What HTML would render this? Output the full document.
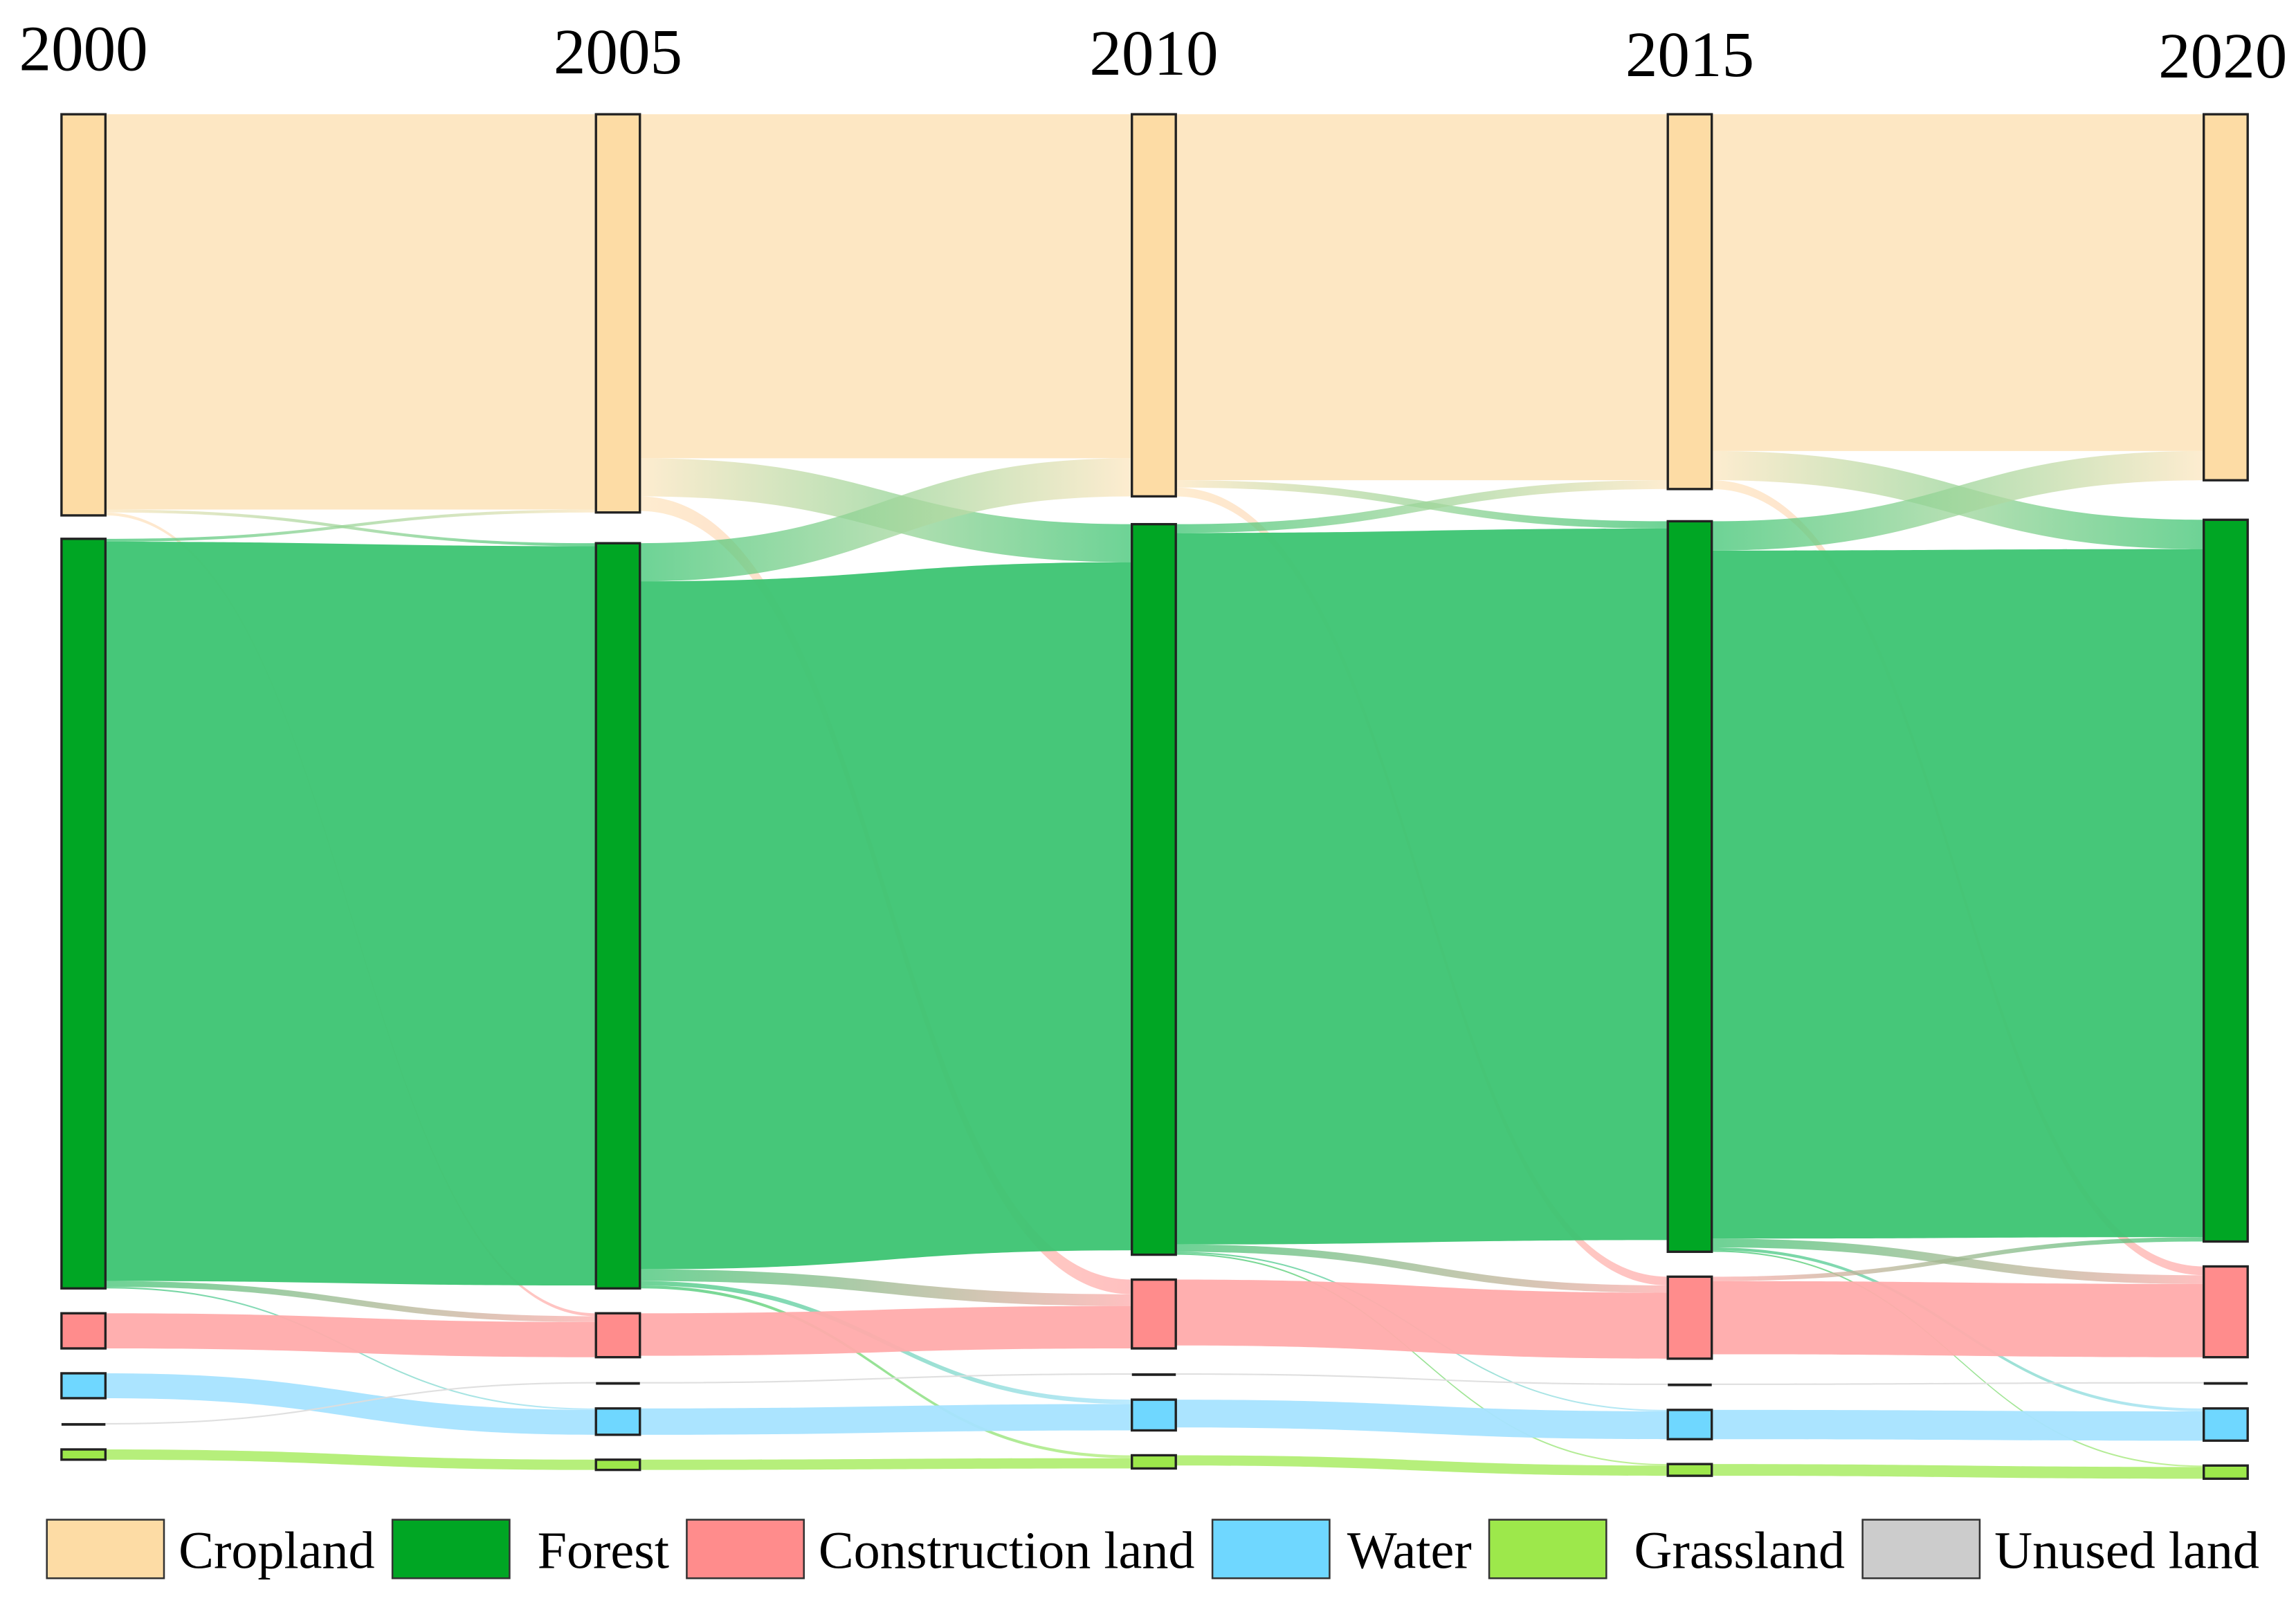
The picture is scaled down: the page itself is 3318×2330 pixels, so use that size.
<!DOCTYPE html>
<html><head><meta charset="utf-8">
<style>
html,body{margin:0;padding:0;background:#fff;}
svg{display:block;}
</style></head>
<body>
<svg id="chart" width="3318" height="2330" viewBox="0 0 1568 1101" xmlns="http://www.w3.org/2000/svg" font-family="'Liberation Serif', serif">
<defs id="defs"></defs>
<g id="links"></g>
<g id="nodes"></g>
<g id="years"></g>
<g id="legend"></g>
</svg>
<script>
const years = ["2000","2005","2010","2015","2020"];
const categories = ["Cropland","Forest","Construction land","Water","Grassland","Unused land"];
// flows[t][from][to]  (order: Cropland, Forest, Construction, Water, Grassland, Unused)
const flow2000to2005 = [
  [270,2,2,0,0,0],
  [2,505,4,1,0,0],
  [0,0,24,0,0,0],
  [0,0,0,17,0,0],
  [0,0,0,0,7,0],
  [0,0,0,0,0,1]
];
const flow2005to2010 = [
  [235,26,10,0,0,0],
  [26,470,8,3,2,0],
  [0,0,29,0,0,0],
  [0,0,0,18,0,0],
  [0,0,0,0,7,0],
  [0,0,0,0,0,1]
];
const flow2010to2015 = [
  [250,5,6,0,0,0],
  [6,486,5,1,1,0],
  [0,0,45,0,0,0],
  [0,0,0,19,0,0],
  [0,0,0,0,7,0],
  [0,0,0,0,0,1]
];
const flow2015to2020 = [
  [230,20,6,0,0,0],
  [20,470,6,2,1,0],
  [0,3,50,0,0,0],
  [0,0,0,20,0,0],
  [0,0,0,0,8,0],
  [0,0,0,0,0,1]
];
const flows = [flow2000to2005, flow2005to2010, flow2010to2015, flow2015to2020];

const nodeColors = ["#FDDCA5","#00A624","#FF8C8C","#6FD7FF","#9DE84B","#CCCCCC"];
const linkColors = ["#FDE6C0","#3CC472","#FFABAB","#A6E3FF","#B2EE74","#DDDDDD"];
const stackOrders = [[0,1,2,3,5,4],[0,1,2,5,3,4],[0,1,2,5,3,4],[0,1,2,5,3,4],[0,1,2,5,3,4]];
const firstGap = [16,21,19,22,27];
const colX = [42,407,773,1139,1505];
const nodeW = 30, top0 = 78, pad = 17;
const NS = "http://www.w3.org/2000/svg";

function mk(tag, attrs, parent){
  const e = document.createElementNS(NS, tag);
  for (const k in attrs) e.setAttribute(k, attrs[k]);
  parent.appendChild(e); return e;
}
const values = years.map((y,c)=>categories.map((_,i)=>{
  let out = 0, inn = 0;
  if (c < flows.length) out = flows[c][i].reduce((a,b)=>a+b,0);
  if (c > 0) inn = flows[c-1].reduce((a,row)=>a+row[i],0);
  return Math.max(out, inn, 1);
}));
const nodeY = values.map((v,c)=>{
  const ys = []; let y = top0;
  stackOrders[c].forEach((i,k)=>{ ys[i] = y; y += v[i] + (k===0 ? firstGap[c] : pad); });
  return ys;
});
const defs = document.getElementById('defs');
const linksG = document.getElementById('links');
flows.forEach((m,t)=>{
  const outOff = categories.map(()=>0), inOff = categories.map(()=>0);
  const segs = [];
  const so = stackOrders[t], ti = stackOrders[t+1];
  so.forEach(i=>{ ti.forEach(j=>{
    const v = m[i][j]; if (!v) return;
    const y0 = nodeY[t][i] + outOff[i]; outOff[i] += v;
    segs.push({i,j,v,y0});
  });});
  ti.forEach(j=>{ so.forEach(i=>{
    const s = segs.find(q=>q.i===i&&q.j===j); if (!s) return;
    s.y1 = nodeY[t+1][j] + inOff[j]; inOff[j] += s.v;
  });});
  segs.forEach((s,k)=>{
    const x0 = colX[t]+nodeW, x1 = colX[t+1], xm = (x0+x1)/2;
    let fill = linkColors[s.i];
    if (s.i !== s.j){
      const id = 'g'+t+'_'+k;
      const g = mk('linearGradient',{id:id,x1:'0',x2:'1',y1:'0',y2:'0'},defs);
      mk('stop',{offset:'0','stop-color':linkColors[s.i]},g);
      mk('stop',{offset:'1','stop-color':linkColors[s.j]},g);
      fill = 'url(#'+id+')';
    }
    const d = `M${x0},${s.y0} C${xm},${s.y0} ${xm},${s.y1} ${x1},${s.y1} L${x1},${s.y1+s.v} C${xm},${s.y1+s.v} ${xm},${s.y0+s.v} ${x0},${s.y0+s.v} Z`;
    const p = mk('path',{d:d,fill:fill,'fill-opacity':s.i===s.j?0.95:0.75},linksG);
    
    
  });
});
const nodesG = document.getElementById('nodes');
years.forEach((yr,c)=>{
  categories.forEach((cat,i)=>{
    const h = values[c][i];
    let r;
    if (i===5){
      r = mk('rect',{x:colX[c],y:nodeY[c][i],width:nodeW,height:1.8,fill:'#222'},nodesG);
    } else {
      r = mk('rect',{x:colX[c],y:nodeY[c][i],width:nodeW,height:h,fill:nodeColors[i],stroke:'#222','stroke-width':1.6},nodesG);
    }
    
    
  });
});
const yearsG = document.getElementById('years');
const yearBase = [48,50,51,52,53];
years.forEach((yr,c)=>{
  const t = mk('text',{x:colX[c]+nodeW/2 - (c===4?2:0),y:yearBase[c],'text-anchor':'middle','font-size':44,fill:'#000'},yearsG);
  t.textContent = yr;
  
  
});
const legendG = document.getElementById('legend');
const legBoxX = [32,268,469,828,1017,1272];
const legTextX = [122,367,559,920,1116,1362];
categories.forEach((cat,i)=>{
  const r = mk('rect',{x:legBoxX[i],y:1038,width:80,height:40,fill:nodeColors[i],stroke:'#333','stroke-width':1.2},legendG);
  
  
  const t = mk('text',{x:legTextX[i],y:1071,'font-size':36,fill:'#000'},legendG);
  t.textContent = cat;
  
  
});
</script>
</body></html>
